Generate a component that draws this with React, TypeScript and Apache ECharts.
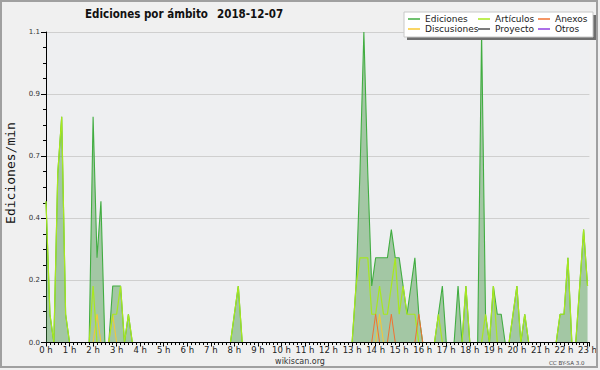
import React, { useEffect, useRef } from 'react';
import * as echarts from 'echarts';

// One value per 10-minute bucket (edits per minute), 00:00 .. 23:00
const bucketMinutes = 10;
const ediciones: number[] = [
  0.5, 0.1, 0, 0.6, 0.8, 0.1, // 0 h
  0, 0, 0, 0, 0, 0, // 1 h
  0.8, 0.3, 0.5, 0, 0, 0.2, // 2 h
  0.2, 0.2, 0, 0.1, 0, 0, // 3 h
  0, 0, 0, 0, 0, 0, // 4 h
  0, 0, 0, 0, 0, 0, // 5 h
  0, 0, 0, 0, 0, 0, // 6 h
  0, 0, 0, 0, 0, 0, // 7 h
  0.1, 0.2, 0, 0, 0, 0, // 8 h
  0, 0, 0, 0, 0, 0, // 9 h
  0, 0, 0, 0, 0, 0, // 10 h
  0, 0, 0, 0, 0, 0, // 11 h
  0, 0, 0, 0, 0, 0, // 12 h
  0, 0.2, 0.6, 1.1, 0.6, 0.2, // 13 h
  0.3, 0.3, 0.3, 0.3, 0.4, 0.3, // 14 h
  0.3, 0.2, 0.1, 0.2, 0.3, 0.1, // 15 h
  0, 0, 0, 0, 0.1, 0.2, // 16 h
  0, 0, 0, 0.2, 0, 0.2, // 17 h
  0, 0, 0, 1.1, 0.1, 0, // 18 h
  0.2, 0.1, 0.1, 0, 0, 0.1, // 19 h
  0.2, 0, 0.1, 0, 0, 0, // 20 h
  0, 0, 0, 0, 0, 0.1, // 21 h
  0.1, 0.3, 0, 0, 0.2, 0.4, // 22 h
  0.2, // 23 h
];
const articulos: number[] = [
  0.5, 0.1, 0, 0.6, 0.8, 0.1,
  0, 0, 0, 0, 0, 0,
  0.2, 0, 0, 0, 0, 0.1,
  0.1, 0.2, 0, 0.1, 0, 0,
  0, 0, 0, 0, 0, 0,
  0, 0, 0, 0, 0, 0,
  0, 0, 0, 0, 0, 0,
  0, 0, 0, 0, 0, 0,
  0.1, 0.2, 0, 0, 0, 0,
  0, 0, 0, 0, 0, 0,
  0, 0, 0, 0, 0, 0,
  0, 0, 0, 0, 0, 0,
  0, 0, 0, 0, 0, 0,
  0, 0.2, 0.3, 0.3, 0.3, 0.1,
  0.1, 0.2, 0.1, 0.1, 0.2, 0.3,
  0.1, 0.2, 0.1, 0.1, 0.1, 0,
  0, 0, 0, 0, 0.1, 0,
  0, 0, 0, 0, 0, 0.2,
  0, 0, 0, 0, 0.1, 0,
  0.2, 0, 0, 0, 0, 0.1,
  0.2, 0, 0.1, 0, 0, 0,
  0, 0, 0, 0, 0, 0.1,
  0.1, 0.3, 0, 0, 0.2, 0.4,
  0.2,
];
const anexos: number[] = [
  0, 0, 0, 0, 0, 0,
  0, 0, 0, 0, 0, 0,
  0, 0, 0, 0, 0, 0,
  0, 0, 0, 0, 0, 0,
  0, 0, 0, 0, 0, 0,
  0, 0, 0, 0, 0, 0,
  0, 0, 0, 0, 0, 0,
  0, 0, 0, 0, 0, 0,
  0, 0, 0, 0, 0, 0,
  0, 0, 0, 0, 0, 0,
  0, 0, 0, 0, 0, 0,
  0, 0, 0, 0, 0, 0,
  0, 0, 0, 0, 0, 0,
  0, 0, 0, 0, 0, 0,
  0.1, 0, 0, 0, 0.1, 0,
  0, 0, 0, 0, 0, 0.1,
  0, 0, 0, 0, 0, 0,
  0, 0, 0, 0, 0, 0,
  0, 0, 0, 0, 0, 0,
  0, 0, 0, 0, 0, 0,
  0, 0, 0, 0, 0, 0,
  0, 0, 0, 0, 0, 0,
  0, 0, 0, 0, 0, 0,
  0,
];
const discusiones: number[] = [
  0, 0, 0, 0, 0, 0,
  0, 0, 0, 0, 0, 0,
  0, 0.1, 0, 0, 0, 0.1,
  0, 0, 0, 0, 0, 0,
  0, 0, 0, 0, 0, 0,
  0, 0, 0, 0, 0, 0,
  0, 0, 0, 0, 0, 0,
  0, 0, 0, 0, 0, 0,
  0, 0, 0, 0, 0, 0,
  0, 0, 0, 0, 0, 0,
  0, 0, 0, 0, 0, 0,
  0, 0, 0, 0, 0, 0,
  0, 0, 0, 0, 0, 0,
  0, 0, 0, 0, 0, 0,
  0, 0.1, 0, 0, 0, 0,
  0, 0, 0, 0, 0, 0,
  0, 0, 0, 0, 0, 0,
  0, 0, 0, 0, 0, 0,
  0, 0, 0, 0, 0, 0,
  0, 0, 0, 0, 0, 0,
  0, 0, 0, 0, 0, 0,
  0, 0, 0, 0, 0, 0,
  0, 0, 0, 0, 0, 0,
  0,
];
const proyecto: number[] = [];
const otros: number[] = [];

const seriesNames = ['Ediciones', 'Artículos', 'Anexos', 'Discusiones', 'Proyecto', 'Otros'];
const seriesColors: Record<string, string> = {
  Ediciones: '#41ad41',
  'Artículos': '#a8e81e',
  Anexos: '#f07232',
  Discusiones: '#f8c832',
  Proyecto: '#505050',
  Otros: '#9040e0',
};
const titleText = 'Ediciones por ámbito';
const dateText = '2018-12-07';
const yAxisName = 'Ediciones/min';
const xMaxHours = 23.08;

const toPoints = (vals: number[]) => vals.map((v, i) => [(i * bucketMinutes) / 60, v]);

export default function App() {
  const ref = useRef<HTMLDivElement>(null);
  useEffect(() => {
    if (!ref.current) return;
    const chart = echarts.init(ref.current, null, { renderer: 'svg' });
    const font = 'DejaVu Sans';
    const lineSeries = (name: string, vals: number[], width: number, extra: any = {}) => ({
      name,
      type: 'line',
      data: toPoints(vals),
      showSymbol: false,
      symbol: 'none',
      silent: true,
      lineStyle: { color: seriesColors[name], width },
      itemStyle: { color: seriesColors[name] },
      ...extra,
    });
    const legendBase = {
      orient: 'vertical',
      top: 14,
      itemGap: 0,
      itemWidth: 12,
      itemHeight: 1.5,
      icon: 'rect',
      padding: 0,
      selectedMode: false,
      z: 10,
      textStyle: { fontSize: 9, fontFamily: font, color: '#1a1a1a', lineHeight: 10 },
    };
    chart.setOption({
      animation: false,
      backgroundColor: '#f0f0f0',
      grid: {
        left: 46,
        right: 10,
        top: 32,
        bottom: 27.5,
        show: true,
        backgroundColor: '#eeeff1',
        borderWidth: 0,
      },
      legend: [
        { ...legendBase, left: 408, data: [seriesNames[0], seriesNames[3]] },
        { ...legendBase, left: 478, data: [seriesNames[1], seriesNames[4]] },
        { ...legendBase, left: 538, data: [seriesNames[2], seriesNames[5]] },
      ],
      xAxis: {
        type: 'value',
        min: 0,
        max: xMaxHours,
        interval: 1,
        z: 10,
        axisLine: { show: true, lineStyle: { color: '#000', width: 1.2 } },
        axisTick: { show: true, length: 4, lineStyle: { color: '#000' } },
        minorTick: { show: true, splitNumber: 6, length: 2.5, lineStyle: { color: '#000' } },
        splitLine: { show: false },
        axisLabel: {
          formatter: (v: number) => (Number.isInteger(v) ? `${v} h` : ''),
          fontSize: 8.5,
          fontFamily: font,
          color: '#222',
          margin: 3,
          showMaxLabel: false,
        },
      },
      yAxis: {
        type: 'value',
        min: 0,
        max: 1.1,
        interval: 0.22,
        axisLine: { show: true, lineStyle: { color: '#000', width: 1 } },
        axisTick: { show: true, length: 5, lineStyle: { color: '#000' } },
        minorTick: { show: true, splitNumber: 4, length: 3, lineStyle: { color: '#000' } },
        splitLine: { show: true, lineStyle: { color: '#cfcfcf', width: 1 } },
        axisLabel: {
          formatter: (v: number) => v.toFixed(1),
          fontSize: 7,
          fontFamily: font,
          color: '#333',
          margin: 6,
        },
      },
      series: [
        lineSeries('Ediciones', ediciones, 1.1, {
          areaStyle: { color: 'rgb(70,150,70)', opacity: 0.45 },
          z: 2,
        }),
        lineSeries('Otros', otros, 1, { z: 3 }),
        lineSeries('Proyecto', proyecto, 1, { z: 3 }),
        lineSeries('Discusiones', discusiones, 1, { z: 3 }),
        lineSeries('Artículos', articulos, 1.2, { z: 4 }),
        lineSeries('Anexos', anexos, 1, { z: 5 }),
      ],
      graphic: [
        {
          type: 'rect',
          z: 3,
          shape: { x: 407, y: 15, width: 190, height: 25 },
          style: { fill: '#6e6e6e' },
        },
        {
          type: 'rect',
          z: 3,
          shape: { x: 404, y: 12, width: 189, height: 25 },
          style: { fill: '#ffffff', stroke: '#c8c8c8', lineWidth: 1 },
        },
        {
          type: 'text',
          z: 3,
          x: 85,
          y: 14,
          style: {
            text: titleText,
            fontSize: 11.5,
            fontWeight: 'bold',
            fontFamily: '"DejaVu Sans Condensed", "DejaVu Sans"',
            fill: '#111',
            align: 'left',
            verticalAlign: 'middle',
          },
        },
        {
          type: 'text',
          z: 3,
          x: 217,
          y: 14,
          style: {
            text: dateText,
            fontSize: 11.5,
            fontWeight: 'bold',
            fontFamily: '"DejaVu Sans Condensed", "DejaVu Sans"',
            fill: '#111',
            align: 'left',
            verticalAlign: 'middle',
          },
        },
        {
          type: 'text',
          z: 3,
          x: 10,
          y: 173,
          rotation: Math.PI / 2,
          style: {
            text: yAxisName,
            fontSize: 13,
            fontFamily: 'DejaVu Sans Mono',
            fill: '#111',
            align: 'center',
            verticalAlign: 'middle',
          },
        },
        {
          type: 'text',
          z: 3,
          x: 300,
          y: 361,
          style: {
            text: 'wikiscan.org',
            fontSize: 8,
            fontFamily: font,
            fill: '#333',
            align: 'center',
            verticalAlign: 'middle',
          },
        },
        {
          type: 'text',
          z: 3,
          x: 549,
          y: 363,
          style: {
            text: 'CC BY-SA 3.0',
            fontSize: 5.5,
            fontFamily: font,
            fill: '#444',
            align: 'left',
            verticalAlign: 'middle',
          },
        },
        {
          type: 'rect',
          z: 100,
          shape: { x: 1, y: 1, width: 596, height: 366 },
          style: { fill: 'none', stroke: '#a0a0a0', lineWidth: 2 },
        },
      ],
    });
    return () => chart.dispose();
  }, []);
  return (
    <div
      ref={ref}
      style={{ position: 'fixed', left: 0, top: 0, width: 600, height: 370 }}
    />
  );
}
